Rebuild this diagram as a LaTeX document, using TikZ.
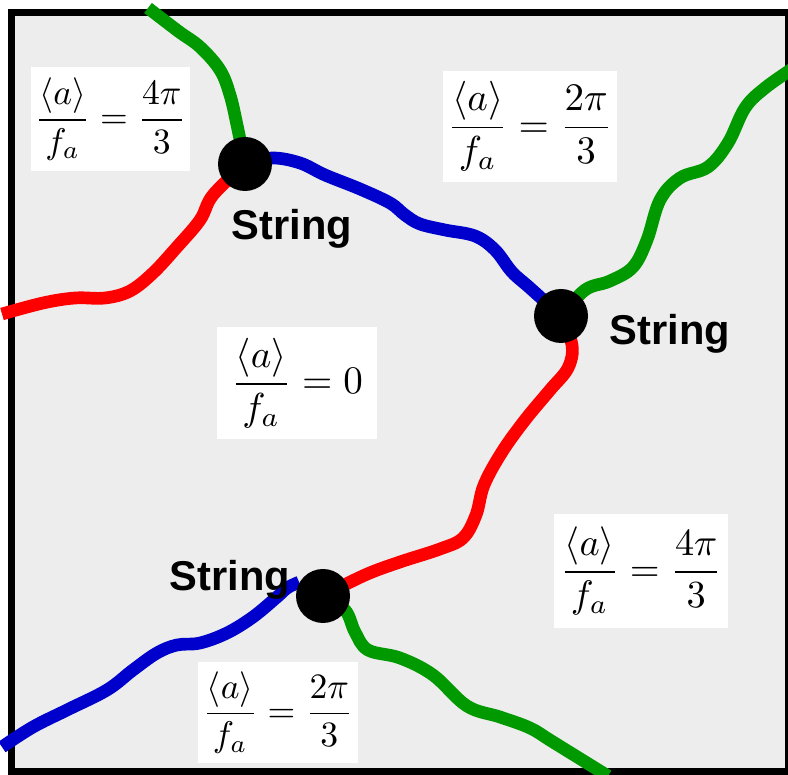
\documentclass[tikz,border=0pt]{standalone}
\usepackage{graphicx}
\usepackage{fontspec}
\newfontfamily\labelfont{Liberation Sans}
\definecolor{bgray}{HTML}{EDEDED}
\definecolor{cred}{HTML}{FF0000}
\definecolor{cblue}{HTML}{0000CC}
\definecolor{cgreen}{HTML}{009900}
\pgfdeclarelayer{back}
\pgfdeclarelayer{mid}
\pgfsetlayers{back,mid,main}
\begin{document}
\begin{tikzpicture}[x=0.3pt,y=-0.3pt,
  dot/.style={circle,fill=black,minimum size=16.2pt,inner sep=0pt},
  strlab/.style={font=\labelfont\bfseries\fontsize{12.5}{15}\selectfont,inner sep=0pt},
  mbox/.style={fill=white,inner sep=0pt},
  wall/.style={line width=3.8pt}]
\useasboundingbox (0,0) rectangle (788,775);
\clip (0,0) rectangle (788,775);
% nodes
\node[dot] (A) at (245,164) {};
\node[dot] (B) at (561,316) {};
\node[dot] (C) at (323,596) {};
\node[strlab] (lA) at (292,229) {String};
\node[strlab] (lB) at (670,334) {String};
\node[strlab] (lC) at (230,580) {String};
\node[mbox,minimum width=47.7pt,minimum height=31.2pt] (m1) at (110.5,119) {\scalebox{1.07}{$\displaystyle\frac{\langle a\rangle}{f_a}=\frac{4\pi}{3}$}};
\node[mbox,minimum width=52.2pt,minimum height=33.3pt] (m2) at (530,126.5) {\scalebox{1.17}{$\displaystyle\frac{\langle a\rangle}{f_a}=\frac{2\pi}{3}$}};
\node[mbox,minimum width=48pt,minimum height=33.6pt] (m3) at (297,383) {\scalebox{1.17}{$\displaystyle\frac{\langle a\rangle}{f_a}=0$}};
\node[mbox,minimum width=48pt,minimum height=30.3pt] (m4) at (278,712.5) {\scalebox{1.07}{$\displaystyle\frac{\langle a\rangle}{f_a}=\frac{2\pi}{3}$}};
\node[mbox,minimum width=52.2pt,minimum height=34.2pt] (m5) at (641,571) {\scalebox{1.15}{$\displaystyle\frac{\langle a\rangle}{f_a}=\frac{4\pi}{3}$}};
% free ends
\coordinate (eG1) at (148,8);
\coordinate (eR1) at (2,314);
\coordinate (eG2) at (795,67);
\coordinate (eB2) at (2,747);
\coordinate (eG3) at (608,776);
\begin{pgfonlayer}{back}
\fill[white] (0,0) rectangle (788,775);
\filldraw[fill=bgray,draw=black,line width=2.1pt] (11.5,13) rectangle (788.5,772);
\end{pgfonlayer}
\begin{pgfonlayer}{mid}
\draw[wall,cgreen] plot[smooth,tension=0.6] coordinates {(A.center) (237,125) (230,95) (220,70) (200,47) (178,31) (eG1)};
\draw[wall,cred] plot[smooth,tension=0.6] coordinates {(A.center) (213,195) (200,220) (177,247) (153,273) (130,291) (105,298) (75,298) (43,303) (eR1)};
\draw[wall,cblue] plot[smooth,tension=0.6] coordinates {(A.center) (272,158) (300,163) (325,175) (360,189) (390,203) (405,215) (420,224) (445,230) (475,236) (495,250) (512,272) (530,288) (B.center)};
\draw[wall,cgreen] plot[smooth,tension=0.6] coordinates {(B.center) (585,290) (610,281) (633,267) (647,240) (660,200) (680,178) (708,167) (728,143) (745,108) (765,88) (eG2)};
\draw[wall,cred] plot[smooth,tension=0.6] coordinates {(B.center) (572,345) (568,368) (550,390) (525,420) (502,452) (484,485) (476,515) (463,538) (440,549) (400,562) (365,575) (C.center)};
\draw[wall,cblue] plot[smooth,tension=0.6] coordinates {(C.150) (287,588) (277,597) (253,617) (227,633) (200,643) (177,645) (157,653) (133,670) (107,690) (67,710) (33,727) (eB2)};
\draw[wall,cgreen] plot[smooth,tension=0.6] coordinates {(C.center) (345,610) (355,632) (368,650) (400,658) (433,675) (467,706) (500,717) (530,728) (553,742) (eG3)};
\end{pgfonlayer}
\end{tikzpicture}
\end{document}
